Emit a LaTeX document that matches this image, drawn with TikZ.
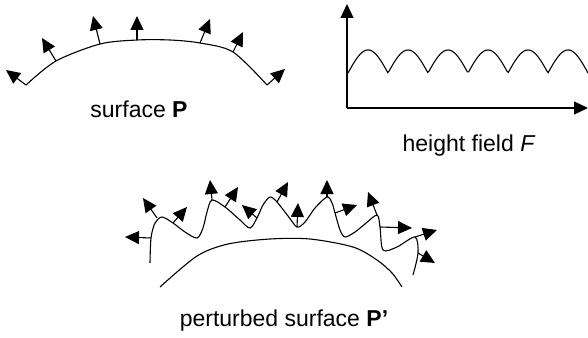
\documentclass[tikz,border=0pt]{standalone}
\usepackage{fontspec}
\setmainfont{Liberation Sans}
\usetikzlibrary{arrows.meta}

\begin{document}
\begin{tikzpicture}[x=1pt,y=-1pt,line width=1.1pt,
  nrm/.style={-{Triangle[length=14pt,width=13pt]}},
  lbl/.style={anchor=base,inner sep=0pt,font=\fontsize{23}{26}\selectfont}]
\useasboundingbox (0,0) rectangle (588,337);

% surface P
\draw plot[smooth] coordinates {(26,85) (56,61) (100,44) (137,40) (170,40) (200,43) (233,52) (267,85)};
\draw[nrm] (26,85)--(6,70);
\draw[nrm] (56,61)--(42,38);
\draw[nrm] (100,44)--(93,16);
\draw[nrm] (137,40)--(137,16);
\draw[nrm] (200,43)--(210,19);
\draw[nrm] (233,52)--(243,32);
\draw[nrm] (267,85)--(285,69);
\node[lbl] (surfP) at (139,117) {surface \textbf{P}};

% height field F
\draw[nrm] (347,108)--(347,4);
\draw[nrm] (347,108)--(588,108);
\draw plot[domain=348:588,samples=200] (\x,{73-23*abs(sin(4.5*(\x-348)))});
\node[lbl] (hfield) at (469,151) {height field \textit{F}};

% perturbed surface P'
\draw plot[smooth] coordinates {(160,287) (197,256) (228,244) (270,239) (310,239) (353,247) (377,260) (392,273) (402,287)};
\draw plot[smooth] coordinates {(150,263) (151,238) (155,223) (162,217) (173,223) (185,232) (197,238) (203,228)
  (207,212) (212,200) (225,207) (240,220) (250,228) (257,218) (263,205) (270,197) (277,202) (288,216) (297,227)
  (305,222) (315,208) (327,197) (332,203) (335,213) (340,230) (345,237) (355,232) (365,224) (377,215) (380,227)
  (383,250) (397,247) (415,237) (418,253) (413,275)};
\draw[nrm] (151,238)--(125,237);
\draw[nrm] (157,218)--(143,198);
\draw[nrm] (173,223)--(187,207);
\draw[nrm] (212,200)--(210,180);
\draw[nrm] (225,207)--(238,187);
\draw[nrm] (257,218)--(242,205);
\draw[nrm] (277,202)--(288,182);
\draw[nrm] (297,227)--(298,203);
\draw[nrm] (327,197)--(327,180);
\draw[nrm] (335,213)--(357,205);
\draw[nrm] (377,215)--(368,192);
\draw[nrm] (380,227)--(412,228);
\draw[nrm] (415,237)--(437,230);
\draw[nrm] (418,253)--(435,263);
\node[lbl] (pertP) at (284,326) {perturbed surface \textbf{P’}};
\end{tikzpicture}
\end{document}
